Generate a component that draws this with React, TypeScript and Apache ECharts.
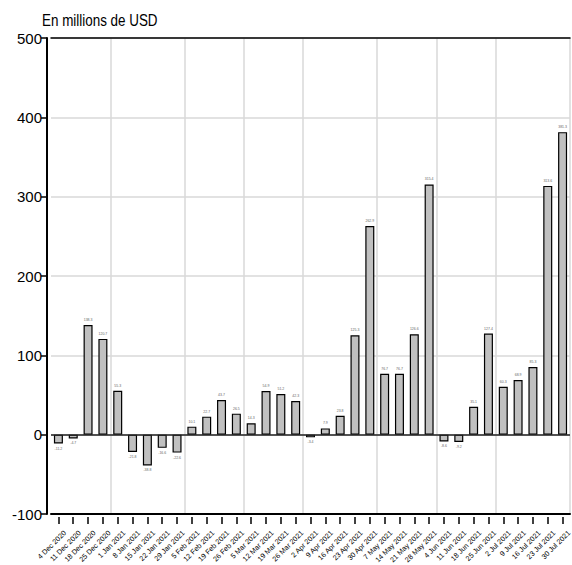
import React, { useEffect, useRef } from "react";
import * as echarts from "echarts";

const categories = [
  "4 Dec 2020", "11 Dec 2020", "18 Dec 2020", "25 Dec 2020",
  "1 Jan 2021", "8 Jan 2021", "15 Jan 2021", "22 Jan 2021", "29 Jan 2021",
  "5 Feb 2021", "12 Feb 2021", "19 Feb 2021", "26 Feb 2021",
  "5 Mar 2021", "12 Mar 2021", "19 Mar 2021", "26 Mar 2021",
  "2 Apr 2021", "9 Apr 2021", "16 Apr 2021", "23 Apr 2021", "30 Apr 2021",
  "7 May 2021", "14 May 2021", "21 May 2021", "28 May 2021",
  "4 Jun 2021", "11 Jun 2021", "18 Jun 2021", "25 Jun 2021",
  "2 Jul 2021", "9 Jul 2021", "16 Jul 2021", "23 Jul 2021", "30 Jul 2021",
];

const values = [
  -11.2, -4.7, 138.3, 120.7,
  55.3, -21.8, -38.8, -16.6, -22.6,
  10.1, 22.7, 43.7, 26.5,
  14.3, 54.9, 51.2, 42.3,
  -3.4, 7.9, 23.8, 125.3, 262.9,
  76.7, 76.7, 126.6, 315.4,
  -8.6, -9.2, 35.1, 127.4,
  60.3, 68.9, 85.3, 313.6, 381.3,
];

// indices of first week of each new month (vertical separators drawn before them)
const monthStarts = [4, 9, 13, 17, 22, 26, 30];

const yTicks = { min: -100, max: 500, interval: 100 };
const title = "En millions de USD";

const FONT = "'Liberation Sans Narrow', 'Arial Narrow', 'Liberation Sans', Arial, sans-serif";

export default function App() {
  const ref = useRef<HTMLDivElement>(null);
  useEffect(() => {
    if (!ref.current) return;
    const chart = echarts.init(ref.current, null, { renderer: "svg" });
    chart.setOption({
      animation: false,
      backgroundColor: "#ffffff",
      graphic: [
        {
          type: "text",
          x: 42,
          y: 20,
          scaleX: 0.79,
          style: {
            text: title,
            font: "17px 'Liberation Sans', Arial, sans-serif",
            fill: "#000",
            textAlign: "left",
            textVerticalAlign: "middle",
          },
        },
      ],
      grid: { left: 51, right: 2, top: 38, bottom: 51, outerBoundsMode: "none", containLabel: false },
      xAxis: [
        {
          type: "category",
          data: categories,
          position: "bottom",
          axisLine: { show: true, onZero: false, lineStyle: { color: "#000", width: 2 } },
          axisTick: { show: false },
          axisLabel: { show: false },
          splitLine: {
            show: true,
            interval: (i: number) => monthStarts.includes(i),
            lineStyle: { color: "#d9d9d9", width: 1.5 },
          },
        },
        {
          type: "category",
          data: categories,
          position: "top",
          axisLine: { show: true, onZero: false, lineStyle: { color: "#000", width: 1.5 } },
          axisTick: { show: false },
          axisLabel: { show: false },
          splitLine: { show: false },
        },
        {
          type: "category",
          data: categories,
          position: "bottom",
          offset: 3,
          axisLine: { show: false, onZero: false },
          axisTick: { show: true, alignWithLabel: true, length: 7, lineStyle: { color: "#000", width: 1.5 } },
          axisLabel: {
            interval: 0,
            rotate: 45,
            fontSize: 7.2,
            fontFamily: FONT,
            color: "#000",
            margin: 21,
            padding: [0, -9, 0, 0],
          },
          splitLine: { show: false },
        },
      ],
      yAxis: {
        type: "value",
        offset: 4,
        min: yTicks.min,
        max: yTicks.max,
        interval: yTicks.interval,
        axisLine: { show: true, lineStyle: { color: "#000", width: 2 } },
        axisTick: { show: true, length: 6, lineStyle: { color: "#000", width: 1.5 } },
        axisLabel: { fontSize: 15, fontFamily: FONT, color: "#000", margin: 5 },
        splitLine: { show: true, lineStyle: { color: "#d9d9d9", width: 1.5 } },
      },
      series: [
        {
          type: "bar",
          xAxisIndex: 0,
          barWidth: 9,
          data: values.map((v) => ({
            value: v,
            label: { position: v < 0 ? "bottom" : "top" },
          })),
          itemStyle: { color: "#c0c0c0", borderColor: "#000", borderWidth: 1.2 },
          label: {
            show: true,
            distance: 3,
            fontSize: 3.5,
            fontFamily: FONT,
            color: "#666",
            formatter: (p: any) => Number(p.value).toFixed(1),
          },
          markLine: {
            silent: true,
            symbol: "none",
            label: { show: false },
            lineStyle: { color: "#222", width: 1.5, type: "solid" },
            data: [{ yAxis: 0 }],
          },
        },
      ],
    });
    return () => chart.dispose();
  }, []);
  return <div ref={ref} style={{ width: 572, height: 565, position: "absolute", left: 0, top: 0 }} />;
}
